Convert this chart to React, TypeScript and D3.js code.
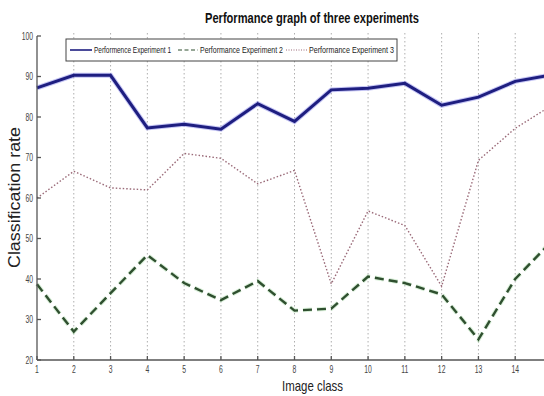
import React from "react";
import * as d3 from "d3";

const classes = [1, 2, 3, 4, 5, 6, 7, 8, 9, 10, 11, 12, 13, 14, 15];
const experiment1 = [87.2, 90.3, 90.3, 77.3, 78.2, 77, 83.3, 78.9, 86.7, 87.1, 88.3, 82.9, 84.9, 88.8, 90.4];
const experiment2 = [38.7, 27, 36.5, 45.9, 39, 34.8, 39.5, 32.2, 32.7, 40.6, 39, 36.2, 25.1, 40, 49.4];
const experiment3 = [60, 66.6, 62.5, 62, 71, 69.8, 63.5, 66.8, 38.8, 56.8, 53.2, 38.2, 69.3, 77.2, 82.9];
const yTicks = [20, 30, 40, 50, 60, 70, 80, 90, 100];
const xTickLabels = classes.slice(0, 14); // 15 falls outside the picture
const legendLabels = ["Performence Experiment 1", "Performance Experiment 2", "Performance Experiment 3"];

const width = 544;
const height = 396;
const marginLeft = 37;
const marginTop = 36;
const marginBottom = 36;

const font = "'Liberation Sans', Arial, sans-serif";

export default function App() {
  const x = d3.scaleLinear().domain([1, 15]).range([marginLeft, 552]);
  const y = d3
    .scaleLinear()
    .domain([20, 100])
    .range([height - marginBottom, marginTop]);

  const line = d3
    .line<number>()
    .x((d, i) => x(classes[i]))
    .y((d) => y(d));

  const series = [
    { values: experiment1, stroke: "#1e1e80", width: 3, dash: undefined, glow: "#5a5ae0" },
    { values: experiment2, stroke: "#2f4f2f", width: 2.4, dash: "9 5", glow: "#8fd08f" },
    { values: experiment3, stroke: "#9a6a78", width: 1.4, dash: "1.5 2", glow: undefined },
  ];

  // legend sample line start/end, text start, text width
  const legendItems = [
    { x0: 70, x1: 92, tx: 94, tw: 77 },
    { x0: 178, x1: 198, tx: 200, tw: 83 },
    { x0: 286, x1: 307, tx: 309, tw: 85 },
  ];

  return (
    <svg
      width={width}
      height={height}
      style={{ position: "absolute", left: 0, top: 0, background: "#fff" }}
    >
      {/* vertical grid */}
      <g stroke="#999" strokeWidth={0.8} strokeDasharray="1.5 2.5">
        {classes.slice(1).map((c) => (
          <line key={c} x1={x(c)} x2={x(c)} y1={y(100) - 3} y2={y(20)} />
        ))}
      </g>

      {/* series */}
      {series.map((s, i) => (
        <g key={i}>
          {s.glow && (
            <path
              d={line(s.values) || ""}
              fill="none"
              stroke={s.glow}
              strokeOpacity={0.35}
              strokeWidth={s.width + 2}
              strokeDasharray={s.dash}
            />
          )}
          <path
            d={line(s.values) || ""}
            fill="none"
            stroke={s.stroke}
            strokeWidth={s.width}
            strokeDasharray={s.dash}
          />
        </g>
      ))}

      {/* axes */}
      <g stroke="#555" strokeWidth={1.3}>
        <line x1={marginLeft} x2={marginLeft} y1={y(100)} y2={y(20)} />
        <line x1={marginLeft} x2={width} y1={y(20)} y2={y(20)} />
        {yTicks.map((t) => (
          <line key={t} x1={marginLeft} x2={marginLeft + 4} y1={y(t)} y2={y(t)} />
        ))}
        {classes.map((c) => (
          <line key={c} x1={x(c)} x2={x(c)} y1={y(20)} y2={y(20) - 4} />
        ))}
      </g>
      <g fontFamily={font} fontSize={10} fill="#444">
        {yTicks.map((t) => (
          <text
            key={t}
            transform={`translate(${marginLeft - 4},${y(t)}) scale(0.68,1)`}
            dy="0.35em"
            textAnchor="end"
          >
            {t}
          </text>
        ))}
        {xTickLabels.map((c) => (
          <text
            key={c}
            transform={`translate(${x(c)},${y(20) + 13}) scale(0.68,1)`}
            textAnchor="middle"
          >
            {c}
          </text>
        ))}
      </g>

      {/* legend */}
      <rect x={66} y={39} width={331} height={22} fill="#fff" stroke="#444" strokeWidth={1} />
      {legendItems.map((l, i) => (
        <g key={i}>
          <line
            x1={l.x0}
            x2={l.x1}
            y1={50}
            y2={50}
            stroke={series[i].stroke}
            strokeWidth={i === 0 ? 1.6 : 1.2}
            strokeDasharray={i === 1 ? "4 2.5" : i === 2 ? "1 1.5" : undefined}
          />
          <text
            x={l.tx}
            y={50}
            dy="0.35em"
            fontFamily={font}
            fontSize={9}
            fill="#222"
            textLength={l.tw}
            lengthAdjust="spacingAndGlyphs"
          >
            {legendLabels[i]}
          </text>
        </g>
      ))}

      {/* titles */}
      <text
        x={205}
        y={23}
        fontFamily={font}
        fontWeight="bold"
        fontSize={14}
        fill="#111"
        textLength={214}
        lengthAdjust="spacingAndGlyphs"
      >
        Performance graph of three experiments
      </text>
      <text
        x={282}
        y={391}
        fontFamily={font}
        fontSize={15}
        fill="#222"
        textLength={61}
        lengthAdjust="spacingAndGlyphs"
      >
        Image class
      </text>
      <text
        transform={`translate(20,268) rotate(-90)`}
        fontFamily={font}
        fontSize={16}
        fill="#222"
        textLength={141}
        lengthAdjust="spacingAndGlyphs"
      >
        Classification rate
      </text>
    </svg>
  );
}
